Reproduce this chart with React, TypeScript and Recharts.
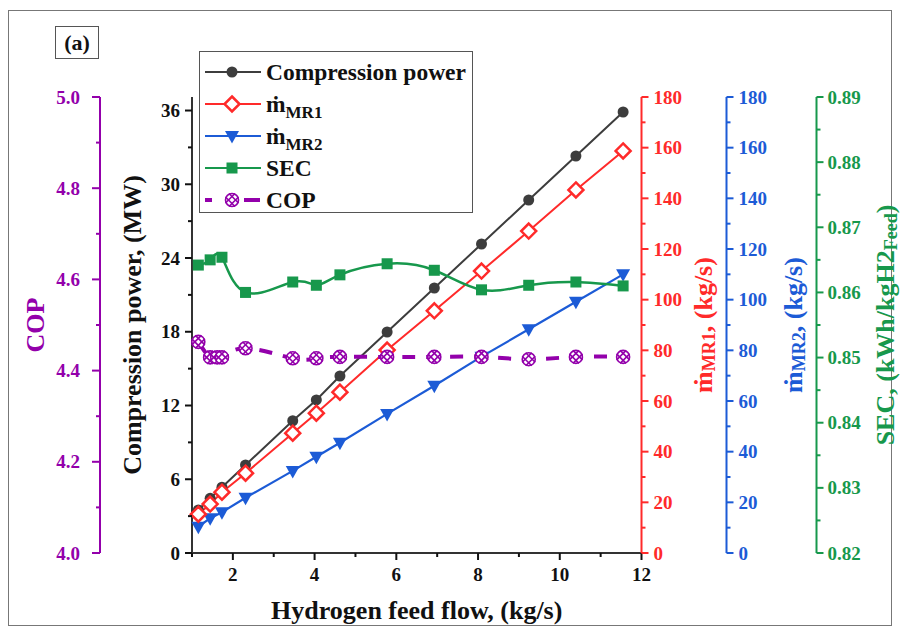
import React from 'react';
import { LineChart, Line, XAxis, YAxis } from 'recharts';

// ---- values ----
const feedFlow = [1.155, 1.444, 1.733, 2.31, 3.465, 4.043, 4.62, 5.775, 6.93, 8.085, 9.24, 10.395, 11.55];
const compressionPower = [3.5, 4.45, 5.35, 7.16, 10.76, 12.45, 14.4, 17.98, 21.56, 25.14, 28.72, 32.3, 35.88];
const massFlowMR1 = [15.3, 19.3, 24.0, 31.5, 47.3, 55.2, 63.5, 80.1, 95.6, 111.3, 127.1, 143.3, 158.7];
const massFlowMR2 = [10.4, 13.7, 16.1, 21.8, 32.4, 38.0, 43.5, 54.9, 66.0, 77.5, 88.3, 99.2, 110.0];
const secValues = [0.8642, 0.865, 0.8654, 0.86, 0.8616, 0.8611, 0.8627, 0.8644, 0.8634, 0.8604, 0.8611, 0.8616, 0.861];
const copFeedFlow = [1.155, 1.444, 1.617, 1.733, 2.31, 3.465, 4.043, 4.62, 5.775, 6.93, 8.085, 9.24, 10.395, 11.55];
const copValues = [4.463, 4.429, 4.429, 4.429, 4.449, 4.427, 4.427, 4.43, 4.43, 4.43, 4.43, 4.425, 4.43, 4.43];

// ticks (majors get a label, the rest are minor marks)
const xTicks = [1, 2, 3, 4, 5, 6, 7, 8, 9, 10, 11, 12];
const powerTicks = [0, 3, 6, 9, 12, 15, 18, 21, 24, 27, 30, 33, 36];
const copTicks = [4.0, 4.1, 4.2, 4.3, 4.4, 4.5, 4.6, 4.7, 4.8, 4.9, 5.0];
const massTicks = [0, 10, 20, 30, 40, 50, 60, 70, 80, 90, 100, 110, 120, 130, 140, 150, 160, 170, 180];
const secTicks = [0.82, 0.825, 0.83, 0.835, 0.84, 0.845, 0.85, 0.855, 0.86, 0.865, 0.87, 0.875, 0.88, 0.885, 0.89];

const mainData = feedFlow.map((x, i) => ({
  x,
  power: compressionPower[i],
  mr1: massFlowMR1[i],
  mr2: massFlowMR2[i],
  sec: secValues[i],
}));
const copData = copFeedFlow.map((x, i) => ({ x, cop: copValues[i] }));

const FONT = '"Liberation Serif", "Times New Roman", serif';
const BLACK = '#333333';
const GREY = '#3d3d3d';
const RED = '#ff2a2a';
const BLUE = '#1c5bd6';
const GREEN = '#17984c';
const PURPLE = '#9300ab';

type Side = 'left' | 'right' | 'bottom';

function makeTick(side: Side, color: string, isMajor: (v: number) => boolean, fmt: (v: number) => string, size = 7, gap = 5) {
  return (props: any) => {
    const { x, y, payload, index } = props;
    const v = Number(payload.value);
    const major = isMajor(v);
    const len = major ? size : 4;
    let ln: React.ReactNode;
    let txt: React.ReactNode = null;
    const common = { fill: color, fontWeight: 'bold' as const, fontSize: 19, style: { fontFamily: FONT } };
    if (side === 'left') {
      const ax = x + size + gap;
      ln = <line x1={ax} x2={ax - len} y1={y} y2={y} stroke={color} strokeWidth={2} />;
      if (major) txt = <text x={x} y={y} textAnchor="end" dominantBaseline="central" {...common}>{fmt(v)}</text>;
    } else if (side === 'right') {
      const ax = x - size - gap;
      ln = <line x1={ax} x2={ax + len} y1={y} y2={y} stroke={color} strokeWidth={2} />;
      if (major) txt = <text x={x} y={y} textAnchor="start" dominantBaseline="central" {...common}>{fmt(v)}</text>;
    } else {
      const ay = y - size - gap;
      ln = <line x1={x} x2={x} y1={ay} y2={ay + len} stroke={color} strokeWidth={2} />;
      if (major) txt = <text x={x} y={y + 9} textAnchor="middle" dominantBaseline="central" {...common}>{fmt(v)}</text>;
    }
    return (
      <g key={`t-${side}-${index}`}>
        {ln}
        {txt}
      </g>
    );
  };
}

// rotated axis title, placed from the axis viewBox
function yTitle(side: 'left' | 'right', dist: number, color: string, parts: React.ReactNode, size = 26) {
  return (props: any) => {
    const vb = props.viewBox || {};
    const axisX = side === 'left' ? vb.x + vb.width : vb.x;
    const cx = side === 'left' ? axisX - dist : axisX + dist;
    const cy = vb.y + vb.height / 2;
    return (
      <text
        transform={`translate(${cx},${cy}) rotate(-90)`}
        textAnchor="middle"
        dominantBaseline="central"
        fill={color}
        fontWeight="bold"
        fontSize={size}
        style={{ fontFamily: FONT }}
      >
        {parts}
      </text>
    );
  };
}

const xTitle = (props: any) => {
  const vb = props.viewBox || {};
  return (
    <text x={vb.x + vb.width / 2} y={vb.y + 57} textAnchor="middle" dominantBaseline="central"
      fill="#111" fontWeight="bold" fontSize={26} style={{ fontFamily: FONT }}>
      Hydrogen feed flow, (kg/s)
    </text>
  );
};

// ---- markers ----
const CircleMark = ({ cx, cy }: any) => <circle cx={cx} cy={cy} r={5.5} fill={GREY} />;
const DiamondMark = ({ cx, cy }: any) => (
  <polygon points={`${cx},${cy - 7.5} ${cx + 7.5},${cy} ${cx},${cy + 7.5} ${cx - 7.5},${cy}`} fill="#fff" stroke={RED} strokeWidth={2.5} />
);
const TriangleMark = ({ cx, cy }: any) => (
  <polygon points={`${cx - 7},${cy - 5} ${cx + 7},${cy - 5} ${cx},${cy + 7.5}`} fill={BLUE} />
);
const SquareMark = ({ cx, cy }: any) => <rect x={cx - 5.5} y={cy - 5.5} width={11} height={11} fill={GREEN} />;
const CopMark = ({ cx, cy }: any) => (
  <g stroke={PURPLE} strokeWidth={1.6} fill="#fff">
    <circle cx={cx} cy={cy} r={6.5} />
    <line x1={cx - 6.5} y1={cy - 3} x2={cx + 3} y2={cy + 6.5} />
    <line x1={cx - 3} y1={cy - 6.5} x2={cx + 6.5} y2={cy + 3} />
    <line x1={cx - 6.5} y1={cy + 3} x2={cx + 3} y2={cy - 6.5} />
    <line x1={cx - 3} y1={cy + 6.5} x2={cx + 6.5} y2={cy - 3} />
  </g>
);

const dotOf = (Mark: any, tag: string) => (p: any) => <Mark key={`${tag}-${p.index}`} cx={p.cx} cy={p.cy} />;

const legendRows = [
  { name: 'Compression power', color: GREY, Mark: CircleMark, dashed: false },
  { name: 'MR1', color: RED, Mark: DiamondMark, dashed: false },
  { name: 'MR2', color: BLUE, Mark: TriangleMark, dashed: false },
  { name: 'SEC', color: GREEN, Mark: SquareMark, dashed: false },
  { name: 'COP', color: PURPLE, Mark: CopMark, dashed: true },
];

function LegendBox() {
  return (
    <div style={{ position: 'absolute', left: 199, top: 51, width: 272, height: 160, border: '1.5px solid #555', background: '#fff', fontFamily: FONT, fontWeight: 'bold', fontSize: 23.5, color: '#111' }}>
      {legendRows.map((r, i) => {
        const cy = 20 + i * 32;
        return (
          <div key={r.name} style={{ position: 'absolute', left: 0, top: cy - 16, height: 32, width: 270 }}>
            <svg width={64} height={32} style={{ position: 'absolute', left: 4, top: 0 }}>
              {r.dashed ? (
                <g stroke={r.color} strokeWidth={4}>
                  <line x1={1} x2={8} y1={16} y2={16} />
                  <line x1={40} x2={56} y1={16} y2={16} />
                </g>
              ) : (
                <line x1={1} x2={57} y1={16} y2={16} stroke={r.color} strokeWidth={2} />
              )}
              <r.Mark cx={28} cy={16} />
            </svg>
            <div style={{ position: 'absolute', left: 66, top: 0, lineHeight: '32px', whiteSpace: 'nowrap' }}>
              {r.name.startsWith('MR') ? (
                <span>
                  ṁ<sub style={{ fontSize: 17, verticalAlign: -6 }}>{r.name}</sub>
                </span>
              ) : (
                r.name
              )}
            </div>
          </div>
        );
      })}
    </div>
  );
}

export default function App() {
  return (
    <div style={{ position: 'fixed', left: 0, top: 0, width: 901, height: 629, background: '#fff', overflow: 'hidden' }}>
      <div style={{ position: 'absolute', left: 8, top: 10, width: 882, height: 614, border: '1.5px solid #777' }} />
      <div style={{ position: 'absolute', left: 55, top: 26, width: 42, height: 31, border: '1.5px solid #555', fontFamily: FONT, fontWeight: 'bold', fontSize: 22, lineHeight: '31px', textAlign: 'center', color: '#111' }}>
        (a)
      </div>
      <div style={{ position: 'absolute', left: 0, top: 0 }}>
        <LineChart width={901} height={629} margin={{ top: 97, right: 10.5, bottom: 10, left: 12 }}>
          <XAxis
            type="number"
            dataKey="x"
            domain={[1, 12]}
            ticks={xTicks}
            interval={0}
            height={66}
            axisLine={{ stroke: BLACK, strokeWidth: 2 }}
            tickLine={false}
            tickSize={7}
            tickMargin={5}
            tick={makeTick('bottom', '#111', (v) => v % 2 === 0, (v) => String(v))}
            label={xTitle}
          />
          <YAxis
            yAxisId="left1"
            orientation="left"
            type="number"
            domain={[0, 37.1]}
            ticks={powerTicks}
            interval={0}
            width={92}
            axisLine={{ stroke: BLACK, strokeWidth: 2 }}
            tickLine={false}
            tickSize={7}
            tickMargin={5}
            tick={makeTick('left', '#111', (v) => v % 6 === 0, (v) => String(v))}
            label={yTitle('left', 60, '#111', 'Compression power, (MW)')}
          />
          <YAxis
            yAxisId="left2"
            orientation="left"
            type="number"
            domain={[4, 5]}
            ticks={copTicks}
            interval={0}
            width={88}
            axisLine={{ stroke: PURPLE, strokeWidth: 2 }}
            tickLine={false}
            tickSize={8}
            tickMargin={12}
            tick={makeTick('left', PURPLE, (v) => Math.round(v * 10) % 2 === 0, (v) => v.toFixed(1), 8, 12)}
            label={yTitle('left', 65, PURPLE, 'COP', 26)}
          />
          <YAxis
            yAxisId="mr1"
            orientation="right"
            type="number"
            domain={[0, 180]}
            ticks={massTicks}
            interval={0}
            width={85}
            axisLine={{ stroke: RED, strokeWidth: 2 }}
            tickLine={false}
            tickSize={7}
            tickMargin={5}
            tick={makeTick('right', RED, (v) => v % 20 === 0, (v) => String(v))}
            label={yTitle('right', 61, RED, [
              <tspan key="a">ṁ</tspan>,
              <tspan key="b" dy={6} fontSize={18}>MR1</tspan>,
              <tspan key="c" dy={-6}>, (kg/s)</tspan>,
            ])}
          />
          <YAxis
            yAxisId="mr2"
            orientation="right"
            type="number"
            domain={[0, 180]}
            ticks={massTicks}
            interval={0}
            width={90}
            axisLine={{ stroke: BLUE, strokeWidth: 2 }}
            tickLine={false}
            tickSize={7}
            tickMargin={5}
            tick={makeTick('right', BLUE, (v) => v % 20 === 0, (v) => String(v))}
            label={yTitle('right', 66, BLUE, [
              <tspan key="a">ṁ</tspan>,
              <tspan key="b" dy={6} fontSize={18}>MR2</tspan>,
              <tspan key="c" dy={-6}>, (kg/s)</tspan>,
            ])}
          />
          <YAxis
            yAxisId="sec"
            orientation="right"
            type="number"
            domain={[0.82, 0.89]}
            ticks={secTicks}
            interval={0}
            width={74}
            axisLine={{ stroke: GREEN, strokeWidth: 2 }}
            tickLine={false}
            tickSize={7}
            tickMargin={4}
            tick={makeTick('right', GREEN, (v) => Math.round(v * 1000) % 10 === 0, (v) => v.toFixed(2), 7, 4)}
            label={yTitle('right', 68, GREEN, [
              <tspan key="a">SEC, (kWh/kgH2</tspan>,
              <tspan key="b" dy={6} fontSize={18}>Feed</tspan>,
              <tspan key="c" dy={-6}>)</tspan>,
            ])}
          />
          <Line data={mainData} yAxisId="left1" dataKey="power" type="linear" stroke={GREY} strokeWidth={2}
            dot={dotOf(CircleMark, 'cp')} activeDot={false} isAnimationActive={false} />
          <Line data={mainData} yAxisId="mr2" dataKey="mr2" type="linear" stroke={BLUE} strokeWidth={2.2}
            dot={dotOf(TriangleMark, 'm2')} activeDot={false} isAnimationActive={false} />
          <Line data={mainData} yAxisId="mr1" dataKey="mr1" type="linear" stroke={RED} strokeWidth={2}
            dot={dotOf(DiamondMark, 'm1')} activeDot={false} isAnimationActive={false} />
          <Line data={mainData} yAxisId="sec" dataKey="sec" type="natural" stroke={GREEN} strokeWidth={2.5}
            dot={dotOf(SquareMark, 'sec')} activeDot={false} isAnimationActive={false} />
          <Line data={copData} yAxisId="left2" dataKey="cop" type="natural" stroke={PURPLE} strokeWidth={4}
            strokeDasharray="13 11" dot={dotOf(CopMark, 'cop')} activeDot={false} isAnimationActive={false} />
        </LineChart>
      </div>
      <LegendBox />
    </div>
  );
}
